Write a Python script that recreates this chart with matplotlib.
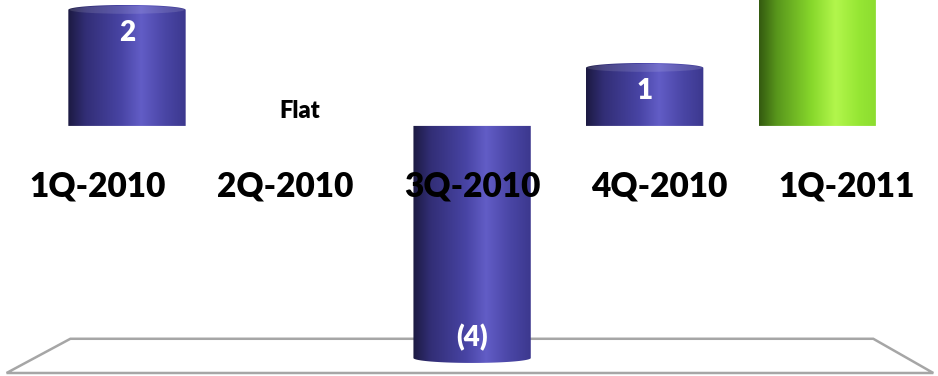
import numpy as np
import matplotlib
matplotlib.use("Agg")
import matplotlib.pyplot as plt
from matplotlib.colors import LinearSegmentedColormap
from matplotlib.patches import Polygon, Ellipse

# Quarter-over-quarter change
quarters = ["1Q-2010", "2Q-2010", "3Q-2010", "4Q-2010", "1Q-2011"]
changes = [2, 0, -4, 1, 3]
value_labels = ["2", "Flat", "(4)", "1", ""]

FONT = ["Lato", "DejaVu Sans"]
WEIGHT = "heavy"

blue_cmap = LinearSegmentedColormap.from_list("cyl_blue", [
    (0.00, "#1c1a42"), (0.15, "#322e76"), (0.45, "#4844a4"),
    (0.62, "#625dc6"), (0.82, "#4a46a6"), (1.00, "#3c388e")])
green_cmap = LinearSegmentedColormap.from_list("cyl_green", [
    (0.00, "#345a10"), (0.15, "#58961c"), (0.45, "#88d82c"),
    (0.65, "#b2f64c"), (0.85, "#96e634"), (1.00, "#8cdc30")])

BAR_W = 0.68
CAP_H = 0.085   # half-height of the elliptical ends, in data units


def cylinder(ax, x, v, cmap, n=60):
    x0, x1 = x - BAR_W / 2, x + BAR_W / 2
    t = np.linspace(np.pi, 0, n)
    # far end of the bar gets a rounded edge
    sign = 1 if v >= 0 else -1
    arc_x = x + BAR_W / 2 * np.cos(t)
    arc_y = v + sign * CAP_H * np.sin(t)
    pts = np.vstack([[x0, 0], np.column_stack([arc_x, arc_y]), [x1, 0]])
    body = Polygon(pts, closed=True, transform=ax.transData, facecolor="none",
                   edgecolor="none")
    ax.add_patch(body)
    grad = np.linspace(0, 1, 256).reshape(1, -1)
    lo, hi = min(0, v) - CAP_H, max(0, v) + CAP_H
    im = ax.imshow(grad, cmap=cmap, aspect="auto", extent=[x0, x1, lo, hi],
                   zorder=3, interpolation="bilinear")
    im.set_clip_path(body)
    if v > 0:
        cap = Ellipse((x, v), BAR_W * 0.98, 2 * CAP_H * 0.8, facecolor="white",
                      alpha=0.12, edgecolor="none", zorder=4)
        ax.add_patch(cap)


fig = plt.figure(figsize=(9.38, 3.76), dpi=100)
ax = fig.add_axes([0, 0, 1, 1])
ax.set_xlim(-0.736, 4.70)
ax.set_ylim(-4.31, 2.17)
ax.axis("off")

# floor of the 3D plot area
floor = Polygon([(0.075, 0.099), (0.931, 0.099), (0.995, 0.008), (0.007, 0.008)],
                closed=True, transform=ax.transAxes, facecolor="white",
                edgecolor="#a6a6a6", linewidth=1.8, zorder=1)
ax.add_patch(floor)

xs = np.arange(len(quarters))
for i, (x, v) in enumerate(zip(xs, changes)):
    if v == 0:
        continue
    cmap = green_cmap if i == len(quarters) - 1 else blue_cmap
    cylinder(ax, x, v, cmap)

# value labels sit just inside the end of each bar
for x, v, lab in zip(xs, changes, value_labels):
    if not lab:
        continue
    if v == 0:
        ax.text(x, v + 0.26, lab, ha="center", va="center", fontsize=17,
                fontweight=WEIGHT, color="black", family=FONT, zorder=6)
    elif v > 0:
        ax.text(x, v - 0.40, lab, ha="center", va="center", fontsize=20,
                fontweight=WEIGHT, color="white", family=FONT, zorder=6)
    else:
        ax.text(x, v + 0.35, lab, ha="center", va="center", fontsize=20,
                fontweight=WEIGHT, color="white", family=FONT, zorder=6)

# category labels spread out in front of the bars (perspective)
mid = xs.mean()
for x, q in zip(xs, quarters):
    lx = mid + 1.084 * (x - mid)
    ax.text(lx, -1.05, q, ha="center", va="center", fontsize=24,
            fontweight=WEIGHT, color="black", family=FONT, zorder=5)

fig.savefig("out.png", dpi=100)
